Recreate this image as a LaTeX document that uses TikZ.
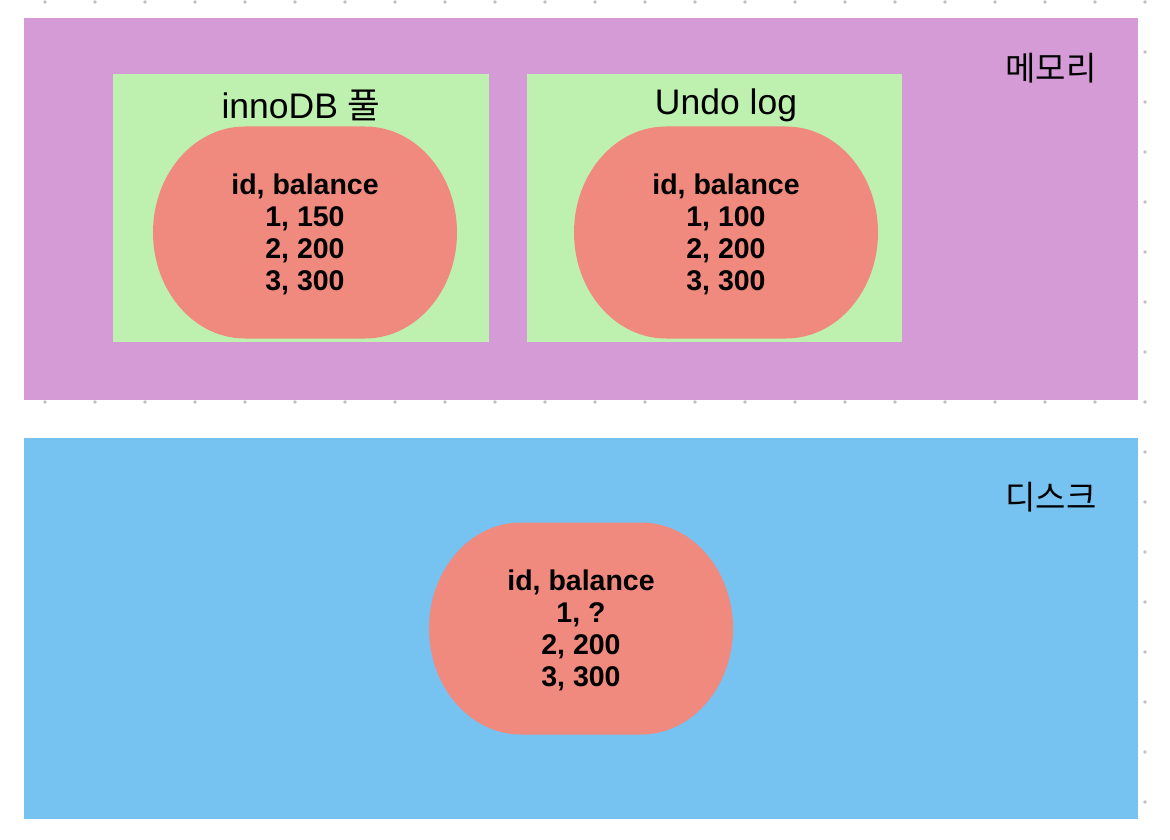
\documentclass[tikz,border=0pt]{standalone}
\usepackage{fontspec}
\setmainfont{Liberation Sans}
\newfontfamily\cjk{Noto Sans CJK KR}
\definecolor{memcol}{RGB}{212,155,215}
\definecolor{diskcol}{RGB}{118,194,240}
\definecolor{boxcol}{RGB}{190,240,176}
\definecolor{blobcol}{RGB}{240,138,127}
\definecolor{dotcol}{RGB}{192,192,192}
\tikzset{
  blob/.pic={\fill[blobcol] (-60,-106) -- (60,-106) .. controls (110.8,-106) and (152,-58.5) .. (152,0)
     .. controls (152,58.5) and (110.8,106) .. (60,106) -- (-60,106)
     .. controls (-110.8,106) and (-152,58.5) .. (-152,0)
     .. controls (-152,-58.5) and (-110.8,-106) .. (-60,-106) -- cycle;},
  rows/.style={align=center, inner sep=0pt, font=\fontsize{28.5}{32}\selectfont\bfseries},
  boxtitle/.style={inner sep=0pt, font=\fontsize{35.5}{40}\selectfont},
  arealabel/.style={inner sep=0pt, font=\cjk\fontsize{33}{38}\selectfont},
}
\begin{document}
\begin{tikzpicture}[x=1pt,y=-1pt]
\useasboundingbox (0,0) rectangle (1170,840);
\fill[white] (0,0) rectangle (1170,840);
\foreach \i in {0,...,22}{\foreach \j in {0,...,16}{\fill[dotcol] (45+50*\i,2+50*\j) circle[radius=1.9pt];}}
% memory area
\fill[memcol] (24,18) rectangle (1138,400);
\fill[boxcol] (113,74) rectangle (489,342);
\fill[boxcol] (527,74) rectangle (902,342);
\pic at (305,232.5) {blob};
\pic at (726,232.5) {blob};
\node[boxtitle] (pooltitle) at (301,105) {innoDB {\cjk 풀}};
\node[boxtitle] (undotitle) at (726,105) {Undo log};
\node[rows] (poolrows) at (305,234) {id, balance\\1, 150\\2, 200\\3, 300};
\node[rows] (undorows) at (726,234) {id, balance\\1, 100\\2, 200\\3, 300};
\node[arealabel] (memlabel) at (1051,68) {메모리};
% disk area
\fill[diskcol] (24,438) rectangle (1138,819);
\pic at (581,628.5) {blob};
\node[rows] (diskrows) at (581,630) {id, balance\\1, ?\\2, 200\\3, 300};
\node[arealabel] (disklabel) at (1051,497) {디스크};
\end{tikzpicture}
\end{document}
